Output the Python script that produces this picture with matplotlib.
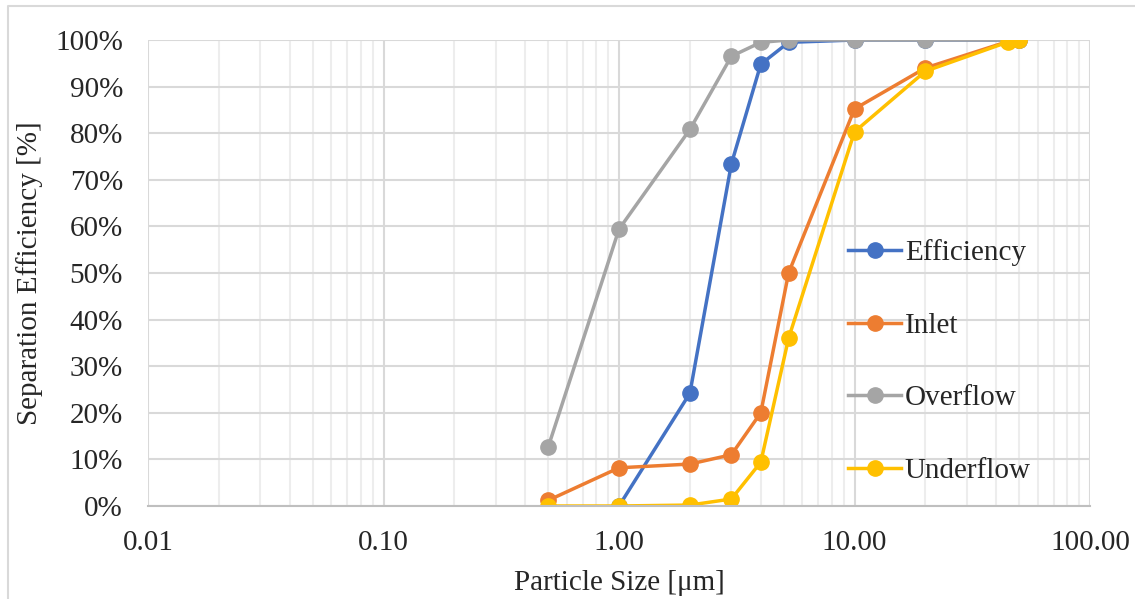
import matplotlib.pyplot as plt
import matplotlib.ticker as mticker
from matplotlib.lines import Line2D

plt.rcParams['font.family'] = ['Liberation Serif', 'DejaVu Serif']

# data (particle size in um, values in %)
size_eff = [1.0, 2.0, 3.0, 4.0, 5.25, 10.0, 20.0, 45.0, 50.0]
efficiency = [0.0, 24.2, 73.4, 94.8, 99.5, 100.0, 100.0, 100.0, 100.0]

size_all = [0.5, 1.0, 2.0, 3.0, 4.0, 5.25, 10.0, 20.0, 45.0, 50.0]
inlet = [1.2, 8.2, 9.0, 11.0, 20.0, 50.0, 85.2, 94.0, 99.7, 100.0]
overflow = [12.6, 59.4, 80.8, 96.5, 99.5, 100.0, 100.0, 100.0, 100.0, 100.0]
underflow = [0.0, 0.0, 0.2, 1.5, 9.4, 36.0, 80.3, 93.3, 99.6, 100.0]

xticks = [0.01, 0.1, 1, 10, 100]
xtick_labels = ['0.01', '0.10', '1.00', '10.00', '100.00']
yticks = list(range(0, 101, 10))

fig = plt.figure(figsize=(11.35, 5.99), dpi=100)
ax = fig.add_axes([148 / 1135, 1 - 506 / 599, (1090 - 148) / 1135, (506 - 40) / 599])

# chart-area border (only top and left edges are in the picture)
fig.lines.append(Line2D([8 / 1135, 8 / 1135, 1.0], [0.0, 1 - 6 / 599, 1 - 6 / 599],
                        transform=fig.transFigure, color='#d9d9d9', linewidth=1.5))

style = dict(linewidth=2.5, marker='o', markersize=11)
ax.plot(size_eff, efficiency, color='#4472C4', label='Efficiency', **style)
ax.plot(size_all, inlet, color='#ED7D31', label='Inlet', **style)
ax.plot(size_all, overflow, color='#A5A5A5', label='Overflow', **style)
ax.plot(size_all, underflow, color='#FFC000', label='Underflow', **style)

ax.set_xscale('log')
ax.set_xlim(0.01, 100)
ax.set_ylim(0, 100)
ax.xaxis.set_major_locator(mticker.FixedLocator(xticks))
ax.xaxis.set_major_formatter(mticker.FixedFormatter(xtick_labels))
ax.xaxis.set_minor_locator(mticker.LogLocator(base=10, subs=range(2, 10)))
ax.xaxis.set_minor_formatter(mticker.NullFormatter())
ax.set_yticks(yticks)
ax.yaxis.set_major_formatter(mticker.FuncFormatter(lambda v, p: f'{v:.0f}%'))

ax.grid(True, which='major', color='#d9d9d9', linewidth=1.5)
ax.grid(True, which='minor', axis='x', color='#ededed', linewidth=1.5)
ax.set_axisbelow(True)
ax.tick_params(which='both', length=0, labelsize=21, colors='#262626')
ax.tick_params(axis='y', pad=18)
ax.tick_params(axis='x', pad=17)
for s in ['top', 'right', 'left']:
    ax.spines[s].set_visible(False)
ax.spines['bottom'].set_color('#bfbfbf')
ax.spines['bottom'].set_linewidth(1.5)

ax.set_xlabel('Particle Size [μm]', fontsize=21, color='#262626', labelpad=10)
ax.set_ylabel('Separation Efficiency [%]', fontsize=21, color='#262626', labelpad=9)

ax.legend(loc='upper left', bbox_to_anchor=(0.731, 0.597), frameon=False,
          fontsize=21, labelspacing=1.58, handlelength=1.8, handletextpad=0.14,
          borderaxespad=0, labelcolor='#262626')

fig.savefig('out.png', dpi=100)
